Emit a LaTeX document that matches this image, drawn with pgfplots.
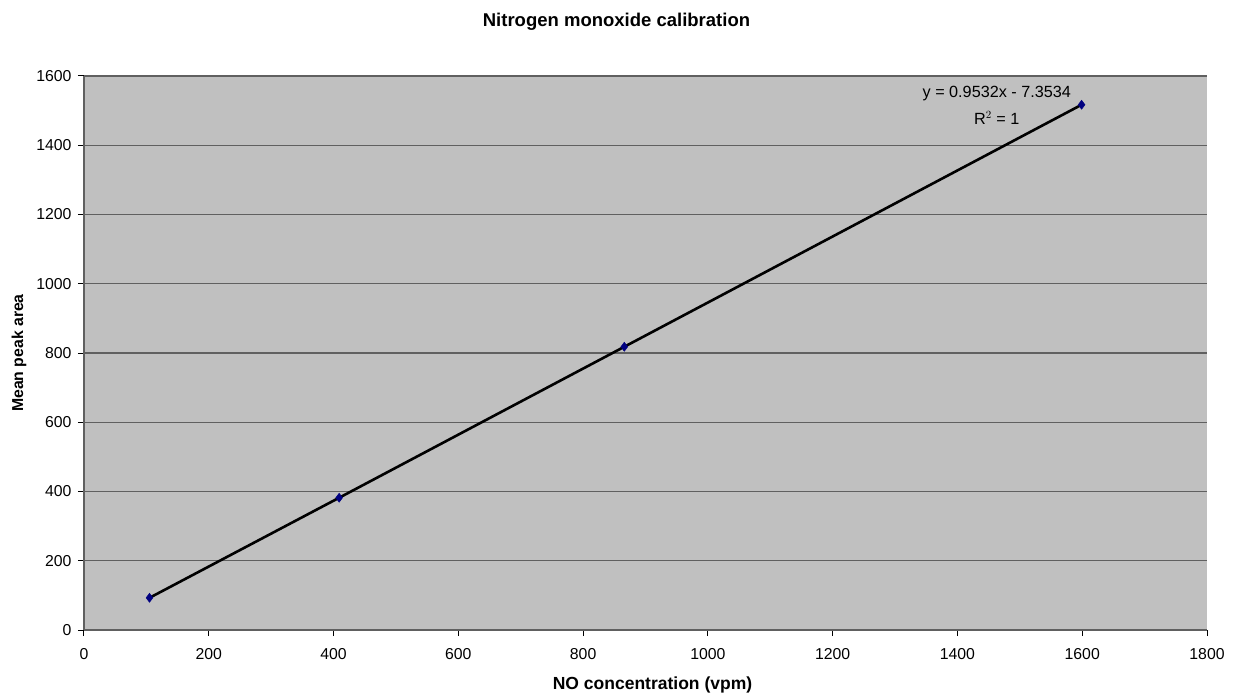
\documentclass[border=0pt]{standalone}
\usepackage{pgfplots}
\pgfplotsset{compat=1.18}
\usepackage{fontspec}
\setmainfont{Liberation Sans}
\definecolor{plotbg}{HTML}{C0C0C0}
\definecolor{gridc}{HTML}{606060}
\definecolor{navyc}{HTML}{000080}
\begin{document}
\begin{tikzpicture}
\begin{axis}[
  scale only axis,
  width=1123pt, height=554pt,
  xmin=0, xmax=1800, ymin=0, ymax=1600,
  xtick={0,200,...,1800}, ytick={0,200,...,1600},
  axis background/.style={fill=plotbg},
  axis line style={draw=gridc, line width=1.2pt},
  axis x line*=bottom, axis y line*=left,
  tick align=outside, tick style={black, line width=1pt},
  major tick length=6pt,
  ymajorgrids, grid style={gridc, line width=1.3pt},
  /pgf/number format/assume math mode=true,
  /pgf/number format/1000 sep={},
  ticklabel style={font=\fontsize{15.8}{18}\selectfont},
  yticklabel style={xshift=-3pt},
  xticklabel style={yshift=-9pt},
  xlabel={\textbf{NO concentration (vpm)}},
  ylabel={\textbf{Mean peak area}},
  xlabel style={font=\fontsize{17.5}{20}\selectfont, at={(axis description cs:0.5,0)}, anchor=center, yshift=-55pt, xshift=7pt},
  ylabel style={font=\fontsize{15.8}{20}\selectfont, at={(axis description cs:0,0.5)}, anchor=center, yshift=65pt},
  title={\textbf{Nitrogen monoxide calibration}},
  title style={font=\fontsize{18.5}{22}\selectfont, at={(axis description cs:0.5,1)}, anchor=center, yshift=48pt, xshift=-29pt},
  clip=false,
]
\addplot[black, line width=2.6pt, mark=diamond*, mark size=4.5pt,
  mark options={fill=navyc, draw=navyc, line width=0.5pt}]
  coordinates {(105,93) (409,382) (866,818) (1599,1517)};
\node[font=\fontsize{16.2}{19}\selectfont, anchor=center] at (axis cs:1463,1548) {y = 0.9532x - 7.3534};
\node[font=\fontsize{16.2}{19}\selectfont, anchor=center] at (axis cs:1463,1479) {R$^{2}$ = 1};
\end{axis}
\path (current axis.south west) ++(-84pt,-62pt) coordinate (bbA);
\path (current axis.north east) ++(27pt,76pt) coordinate (bbB);
\useasboundingbox (bbA) rectangle (bbB);
\end{tikzpicture}
\end{document}
